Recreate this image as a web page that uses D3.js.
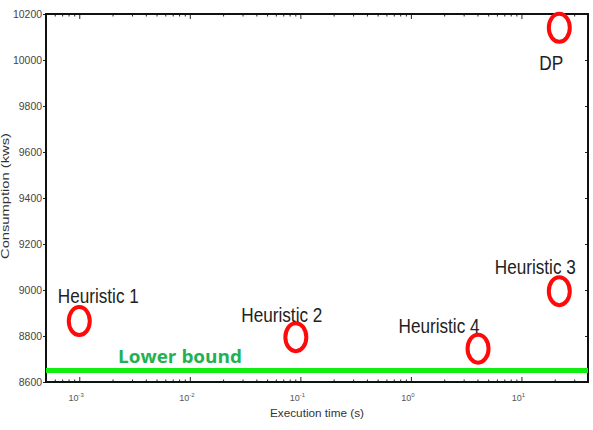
<!DOCTYPE html>
<html>
<head>
<meta charset="utf-8">
<script src="https://cdn.jsdelivr.net/npm/d3@7"></script>
<style>
  body { margin: 0; background: #fff; }
  text { font-family: "Liberation Sans", Arial, sans-serif; }
</style>
</head>
<body>
<div id="chart"></div>
<script>
// Data
const methods = ["Heuristic 1", "Heuristic 2", "Heuristic 3", "Heuristic 4", "DP"];
const execTimes = [0.001, 0.091, 22, 4.05, 22];          // seconds
const consumption = [8865, 8795, 8995, 8745, 10140];     // kws
const lowerBound = 8650;
const yTicks = [8600, 8800, 9000, 9200, 9400, 9600, 9800, 10000, 10200];
const xTickExps = [-3, -2, -1, 0, 1];

const data = methods.map((m, i) => ({ name: m, t: execTimes[i], c: consumption[i] }));

const width = 593, height = 430;
const margin = { top: 14, right: 5, bottom: 48, left: 46 };

const svg = d3.select("#chart").append("svg")
  .attr("width", width)
  .attr("height", height);

// Scales
const x = d3.scaleLog()
  .domain([5e-4, 40])
  .range([margin.left, width - margin.right]);

const y = d3.scaleLinear()
  .domain([8600, 10200])
  .range([height - margin.bottom, margin.top]);

const allX = x.ticks();
const majorX = allX.filter(v => Math.abs(Math.log10(v) - Math.round(Math.log10(v))) < 1e-9);
const minorX = allX.filter(v => !majorX.includes(v));

// Bottom axis, ticks pointing inward
const bottomAxis = svg.append("g").attr("transform", `translate(0,${height - margin.bottom})`);
bottomAxis.append("g").call(d3.axisBottom(x).tickValues(minorX).tickFormat("").tickSizeInner(-2.5).tickSizeOuter(0));
bottomAxis.append("g").call(d3.axisBottom(x).tickValues(majorX).tickFormat("").tickSizeInner(-5).tickSizeOuter(0));

// Top axis, ticks pointing inward
const topAxis = svg.append("g").attr("transform", `translate(0,${margin.top})`);
topAxis.append("g").call(d3.axisTop(x).tickValues(minorX).tickFormat("").tickSizeInner(-2.5).tickSizeOuter(0));
topAxis.append("g").call(d3.axisTop(x).tickValues(majorX).tickFormat("").tickSizeInner(-5).tickSizeOuter(0));

// Left axis
svg.append("g")
  .attr("transform", `translate(${margin.left},0)`)
  .call(d3.axisLeft(y).tickValues(yTicks).tickFormat(d3.format("d")).tickSizeInner(3).tickSizeOuter(0).tickPadding(1))
  .selectAll("text")
  .attr("fill", "#444")
  .attr("textLength", d => String(d).length * 5.8)
  .attr("lengthAdjust", "spacingAndGlyphs")
  .style("font-size", "10px");

// Right axis, ticks inward
svg.append("g")
  .attr("transform", `translate(${width - margin.right},0)`)
  .call(d3.axisRight(y).tickValues(yTicks).tickFormat("").tickSizeInner(-3).tickSizeOuter(0));

svg.selectAll(".domain").attr("stroke", "none");
svg.selectAll(".tick line").attr("stroke", "#222");

// Frame
svg.append("rect")
  .attr("x", margin.left)
  .attr("y", margin.top)
  .attr("width", width - margin.left - margin.right)
  .attr("height", height - margin.top - margin.bottom)
  .attr("fill", "none")
  .attr("stroke", "#111")
  .attr("stroke-width", 2);

// X tick labels 10^n
const xl = svg.append("g");
xTickExps.forEach(e => {
  const t = xl.append("text")
    .attr("x", x(Math.pow(10, e)) - 3)
    .attr("y", height - margin.bottom + 19)
    .attr("text-anchor", "middle")
    .attr("fill", "#555")
    .style("font-size", "9px");
  t.append("tspan").text("10");
  t.append("tspan").attr("dy", -4).style("font-size", "6px").text(e);
});

// Axis titles
svg.append("text")
  .attr("x", 317)
  .attr("y", 417)
  .attr("text-anchor", "middle")
  .attr("fill", "#333")
  .attr("textLength", 94)
  .attr("lengthAdjust", "spacingAndGlyphs")
  .style("font-size", "11px")
  .text("Execution time (s)");

svg.append("text")
  .attr("transform", "translate(9,196) rotate(-90)")
  .attr("text-anchor", "middle")
  .attr("fill", "#333")
  .attr("textLength", 126)
  .attr("lengthAdjust", "spacingAndGlyphs")
  .style("font-size", "11px")
  .text("Consumption (kws)");

// Lower bound line
svg.append("line")
  .attr("x1", margin.left)
  .attr("x2", width - margin.right)
  .attr("y1", y(lowerBound))
  .attr("y2", y(lowerBound))
  .attr("stroke", "#10ee10")
  .attr("stroke-width", 5);

svg.append("text")
  .attr("x", 118)
  .attr("y", y(lowerBound) - 8)
  .attr("fill", "#1fb152")
  .attr("textLength", 124)
  .attr("lengthAdjust", "spacingAndGlyphs")
  .style("font-family", "'Open Sans', sans-serif")
  .style("font-weight", "bold")
  .style("font-size", "17px")
  .text("Lower bound");

// Points as red "O" markers
svg.selectAll(".pt")
  .data(data)
  .enter()
  .append("ellipse")
  .attr("class", "pt")
  .attr("cx", d => x(d.t))
  .attr("cy", d => y(d.c))
  .attr("rx", 10.5)
  .attr("ry", 14)
  .attr("fill", "none")
  .attr("stroke", "#ff0a0a")
  .attr("stroke-width", 4);

// Labels, offset from their points
const labelOffsets = { "Heuristic 1": [19, -18], "Heuristic 2": [-14, -15], "Heuristic 3": [-24, -17], "Heuristic 4": [-39, -16], "DP": [-8, 42] };
svg.selectAll(".lbl")
  .data(data)
  .enter()
  .append("text")
  .attr("class", "lbl")
  .attr("x", d => x(d.t) + labelOffsets[d.name][0])
  .attr("y", d => y(d.c) + labelOffsets[d.name][1])
  .attr("text-anchor", "middle")
  .attr("fill", "#222")
  .attr("textLength", d => d.name === "DP" ? 24 : 81)
  .attr("lengthAdjust", "spacingAndGlyphs")
  .style("font-size", "20px")
  .text(d => d.name);
</script>
</body>
</html>
